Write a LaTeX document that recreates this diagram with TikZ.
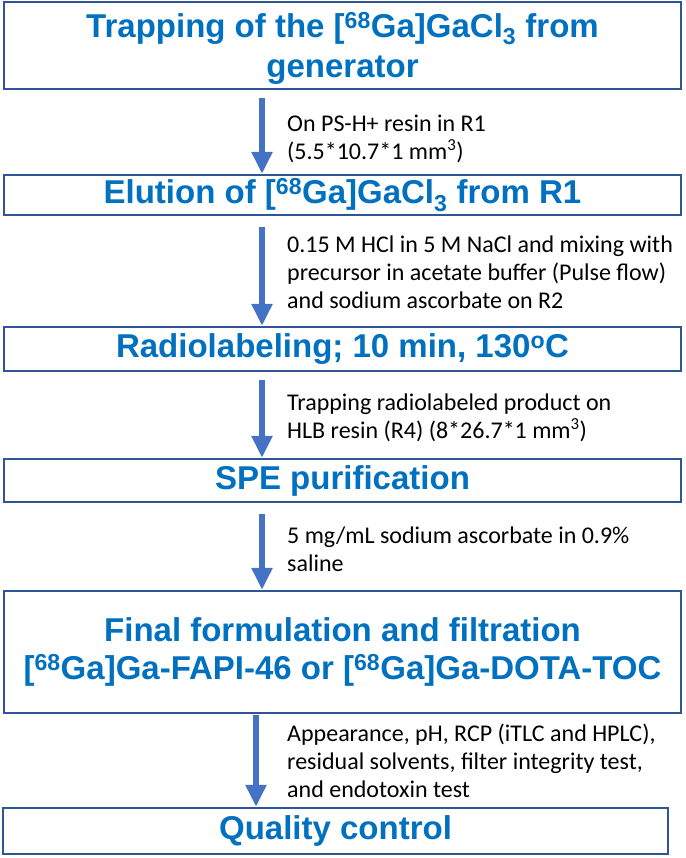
\documentclass[tikz,border=0pt]{standalone}
\usepackage{fontspec}
\setmainfont{Liberation Sans}
\newfontfamily\lblfont{Carlito}
\usetikzlibrary{arrows.meta,calc}
\definecolor{tblue}{HTML}{0070C0}
\definecolor{bblue}{HTML}{2F5597}
\definecolor{ablue}{HTML}{4472C4}
\begin{document}
\begin{tikzpicture}[x=1pt,y=-1pt,
 box/.style={draw=bblue, line width=2.4pt, fill=white, inner sep=0pt, text=tblue,
   font=\fontsize{33}{38}\selectfont\bfseries, align=center},
 arr/.style={draw=ablue, line width=6pt, -{Triangle[width=20pt,length=22pt]}, fill=ablue},
 lbl/.style={anchor=west, align=left, inner sep=0pt, font=\lblfont\fontsize{24}{28}\selectfont}]
\useasboundingbox (0,0) rectangle (685,858);
\coordinate (ax) at (262,0);
\coordinate (ax5) at (256,0);
\node[box, minimum width=677pt, minimum height=87pt] (b1) at (342.5,45.5) {};
\node[text=tblue, font=\fontsize{33}{40}\selectfont\bfseries, align=center, inner sep=0pt] (t1) at (342.5,48)
  {Trapping of the [\textsuperscript{68}Ga]GaCl\textsubscript{3} from\\generator};
\node[box, minimum width=677pt, minimum height=40pt] (b2) at (342.5,195)
  {Elution of [\textsuperscript{68}Ga]GaCl\textsubscript{3} from R1};
\node[box, minimum width=677pt, minimum height=44pt] (b3) at (342.5,349)
  {Radiolabeling; 10 min, 130\textsuperscript{o}C};
\node[box, minimum width=677pt, minimum height=43pt] (b4) at (342.5,480.5)
  {SPE purification};
\node[box, minimum width=677pt, minimum height=122pt] (b5) at (342.5,652)
  {Final formulation and filtration\\{[}\textsuperscript{68}Ga]Ga-FAPI-46 or [\textsuperscript{68}Ga]Ga-DOTA-TOC};
\node[box, minimum width=665pt, minimum height=46pt] (b6) at (335.5,831)
  {Quality control};
\draw[arr] ($(b1.south -| ax)+(0,8)$) -- (b2.north -| ax);
\draw[arr] ($(b2.south -| ax)+(0,11)$) -- (b3.north -| ax);
\draw[arr] ($(b3.south -| ax)+(0,8)$) -- (b4.north -| ax);
\draw[arr] ($(b4.south -| ax)+(0,11)$) -- (b5.north -| ax);
\draw[arr] ($(b5.south -| ax5)+(0,1)$) -- (b6.north -| ax5);
\node[lbl] (l1) at (287,139) {On PS-H+ resin in R1\\(5.5*10.7*1 mm\textsuperscript{3})};
\node[lbl] (l2) at (287,272) {0.15 M HCl in 5 M NaCl and mixing with\\precursor in acetate buffer (Pulse flow)\\and sodium ascorbate on R2};
\node[lbl] (l3) at (287,417.5) {Trapping radiolabeled product on\\HLB resin (R4) (8*26.7*1 mm\textsuperscript{3})};
\node[lbl] (l4) at (287,549) {5 mg/mL sodium ascorbate in 0.9\%\\saline};
\node[lbl] (l5) at (287,761) {Appearance, pH, RCP (iTLC and HPLC),\\residual solvents, filter integrity test,\\and endotoxin test};
\end{tikzpicture}
\end{document}
